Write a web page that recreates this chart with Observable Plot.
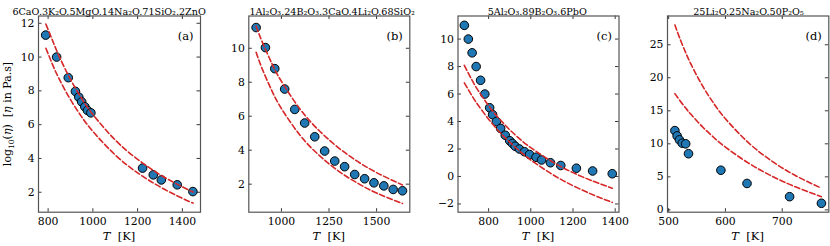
<!DOCTYPE html>
<html><head><meta charset="utf-8">
<script src="https://cdn.jsdelivr.net/npm/d3@7"></script>
<script src="https://cdn.jsdelivr.net/npm/@observablehq/plot@0.6"></script>
<style>
body{margin:0;background:#fff;}
#wrap{position:relative;width:830px;height:246px;overflow:hidden;background:#fff;}
#wrap svg{position:absolute;left:0;top:0;}
</style></head><body><div id="wrap"></div>
<script>
// ---- data ----
const titles = ["6CaO.3K₂O.5MgO.14Na₂O.71SiO₂.2ZnO", "1Al₂O₃.24B₂O₃.3CaO.4Li₂O.68SiO₂", "5Al₂O₃.89B₂O₃.6PbO", "25Li₂O.25Na₂O.50P₂O₅"];
const tags = ["(a)", "(b)", "(c)", "(d)"];

const aT = [789, 838, 890, 922, 937, 950, 964, 976, 991, 1222, 1270, 1306, 1377, 1447];
const aEta = [11.3, 10.0, 8.78, 7.97, 7.63, 7.35, 7.06, 6.84, 6.70, 3.43, 3.03, 2.73, 2.44, 2.04];
const aFitT = [790, 820, 850, 900, 950, 1000, 1100, 1200, 1300, 1400, 1448];
const aUpper = [11.95, 10.97, 10.03, 8.68, 7.55, 6.60, 5.09, 3.95, 3.04, 2.32, 2.01];
const aLower = [10.52, 9.55, 8.69, 7.48, 6.46, 5.60, 4.21, 3.15, 2.32, 1.64, 1.36];
const aXTicks = [800, 1000, 1200, 1400];
const aYTicks = [2, 4, 6, 8, 10, 12];

const bT = [867, 916, 965, 1017, 1070, 1122, 1175, 1227, 1280, 1332, 1385, 1437, 1486, 1538, 1587, 1636];
const bEta = [11.22, 10.04, 8.80, 7.60, 6.40, 5.60, 4.79, 3.95, 3.36, 3.03, 2.57, 2.32, 2.08, 1.90, 1.69, 1.61];
const bFitT = [867, 900, 950, 1000, 1100, 1200, 1300, 1400, 1500, 1636];
const bUpper = [11.3, 10.35, 9.10, 8.05, 6.39, 5.13, 4.14, 3.34, 2.68, 1.95];
const bLower = [9.76, 8.76, 7.49, 6.45, 4.85, 3.68, 2.77, 2.06, 1.48, 0.86];
const bXTicks = [1000, 1250, 1500];
const bYTicks = [2, 4, 6, 8, 10];

const cT = [685, 704, 722, 741, 762, 782, 805, 819, 837, 857, 879, 900, 913, 926, 946, 970, 994, 1025, 1051, 1093, 1142, 1216, 1293, 1386];
const cEta = [11, 10, 9, 8, 7, 6, 5, 4.5, 4, 3.5, 3, 2.6, 2.4, 2.2, 2.0, 1.8, 1.6, 1.4, 1.2, 1.0, 0.8, 0.6, 0.4, 0.2];
const cFitT = [685, 720, 750, 800, 850, 900, 950, 1000, 1100, 1200, 1300, 1386];
const cUpper = [8.09, 7.05, 6.27, 5.15, 4.21, 3.40, 2.70, 2.10, 1.09, 0.28, -0.37, -0.85];
const cLower = [6.81, 5.90, 5.20, 4.17, 3.27, 2.50, 1.81, 1.20, 0.17, -0.67, -1.37, -1.88];
const cXTicks = [800, 1000, 1200, 1400];
const cYTicks = [-2, 0, 2, 4, 6, 8, 10];

const dT = [511, 515, 519, 524, 530, 535, 592, 638, 713, 769];
const dEta = [12.0, 11.2, 10.6, 10.1, 10.0, 8.5, 6.0, 4.0, 2.0, 1.0];
const dFitT = [511, 520, 530, 540, 560, 580, 600, 640, 680, 720, 769];
const dUpper = [28.0, 25.9, 23.81, 21.94, 18.72, 16.05, 13.8, 10.21, 7.49, 5.35, 3.28];
const dLower = [17.6, 16.53, 15.42, 14.39, 12.54, 10.92, 9.5, 7.12, 5.19, 3.60, 2.0];
const dXTicks = [500, 600, 700];
const dYTicks = [0, 5, 10, 15, 20, 25];

// ---- layout ----
const W = 830, H = 246, TOP = 15.5, BOTTOM = 211.7;
const FONT = "DejaVu Serif";
const specs = [
  {T: aT, eta: aEta, fitT: aFitT, up: aUpper, lo: aLower, xt: aXTicks, yt: aYTicks, left: 38, right: 200, xd: [757, 1481], yd: [0.82, 12.43], titleX: 108.6},
  {T: bT, eta: bEta, fitT: bFitT, up: bUpper, lo: bLower, xt: bXTicks, yt: bYTicks, left: 248.3, right: 409.3, xd: [828.5, 1674.5], yd: [0.35, 11.9], titleX: 331.7},
  {T: cT, eta: cEta, fitT: cFitT, up: cUpper, lo: cLower, xt: cXTicks, yt: cYTicks, left: 457.5, right: 618.5, xd: [655, 1418], yd: [-2.6, 11.68], titleX: 536.7},
  {T: dT, eta: dEta, fitT: dFitT, up: dUpper, lo: dLower, xt: dXTicks, yt: dYTicks, left: 667, right: 828.3, xd: [498, 782], yd: [-0.35, 29.35], titleX: 748}
];

const fmt = d => (d < 0 ? "\u2212" : "") + Math.abs(d);
const RED = "#d62728", BLUE = "#1f77b4";
const wrap = document.getElementById("wrap");

specs.forEach((p, i) => {
  const fw = p.right - p.left, fh = BOTTOM - TOP;
  const pts = p.T.map((t, k) => ({T: t, v: p.eta[k]}));
  const up = p.fitT.map((t, k) => ({T: t, v: p.up[k]}));
  const lo = p.fitT.map((t, k) => ({T: t, v: p.lo[k]}));
  const cx = (p.left + p.right) / 2;
  const svg = Plot.plot({
    width: W, height: H,
    marginLeft: p.left, marginRight: W - p.right, marginTop: TOP, marginBottom: H - BOTTOM,
    x: {domain: p.xd, label: null},
    y: {domain: p.yd, label: null},
    style: {fontFamily: FONT, fontSize: "10px", color: "#000", background: "transparent", overflow: "visible"},
    marks: [
      Plot.axisX({ticks: p.xt, tickSize: 0, tickPadding: 5, tickFormat: fmt, fontSize: 10.8}),
      Plot.axisY({ticks: p.yt, tickSize: 0, tickPadding: 4, tickFormat: fmt, fontSize: 10.8}),
      Plot.tickX(p.xt, {x: d => d, insetTop: fh - 3.5, stroke: "#222", strokeWidth: 0.9}),
      Plot.tickX(p.xt, {x: d => d, insetBottom: fh - 3.5, stroke: "#222", strokeWidth: 0.9}),
      Plot.tickY(p.yt, {y: d => d, insetRight: fw - 3.5, stroke: "#222", strokeWidth: 0.9}),
      Plot.tickY(p.yt, {y: d => d, insetLeft: fw - 3.5, stroke: "#222", strokeWidth: 0.9}),
      Plot.dot(pts, {x: "T", y: "v", r: 4.3, fill: BLUE, stroke: "#000", strokeWidth: 1}),
      Plot.line(up, {x: "T", y: "v", stroke: RED, strokeWidth: 1.6, strokeDasharray: "5.5,2.6", curve: "natural"}),
      Plot.line(lo, {x: "T", y: "v", stroke: RED, strokeWidth: 1.6, strokeDasharray: "5.5,2.6", curve: "natural"}),
      Plot.frame({stroke: "#555", strokeWidth: 1.2}),
      Plot.text([tags[i]], {frameAnchor: "top-right", dx: -7, dy: 16, text: d => d, fontSize: 11.5, textAnchor: "end", fill: "#000"}),
      Plot.text([titles[i]], {frameAnchor: "top", dx: p.titleX - cx, dy: -8, text: d => d, fontSize: 9.6, fill: "#000"})
    ]
  });
  wrap.appendChild(svg);
  // x axis label: T [K]
  const t = d3.select(svg).append("text")
    .attr("x", cx).attr("y", 240).attr("text-anchor", "middle")
    .attr("font-family", FONT).attr("font-size", 11.5).attr("fill", "#000");
  t.append("tspan").attr("font-style", "italic").text("T");
  t.append("tspan").text("\u00a0\u00a0[K]");
  if (i === 0) {
    const y = d3.select(svg).append("text")
      .attr("transform", "translate(11,114) rotate(-90)").attr("text-anchor", "middle")
      .attr("font-family", FONT).attr("font-size", 11).attr("fill", "#000");
    y.append("tspan").text("log");
    y.append("tspan").attr("font-size", 7.5).attr("dy", 2.5).text("10");
    y.append("tspan").attr("dy", -2.5).text("(");
    y.append("tspan").attr("font-style", "italic").text("η");
    y.append("tspan").text(")\u00a0\u00a0[");
    y.append("tspan").attr("font-style", "italic").text("η");
    y.append("tspan").text(" in Pa.s]");
  }
});
</script></body></html>
